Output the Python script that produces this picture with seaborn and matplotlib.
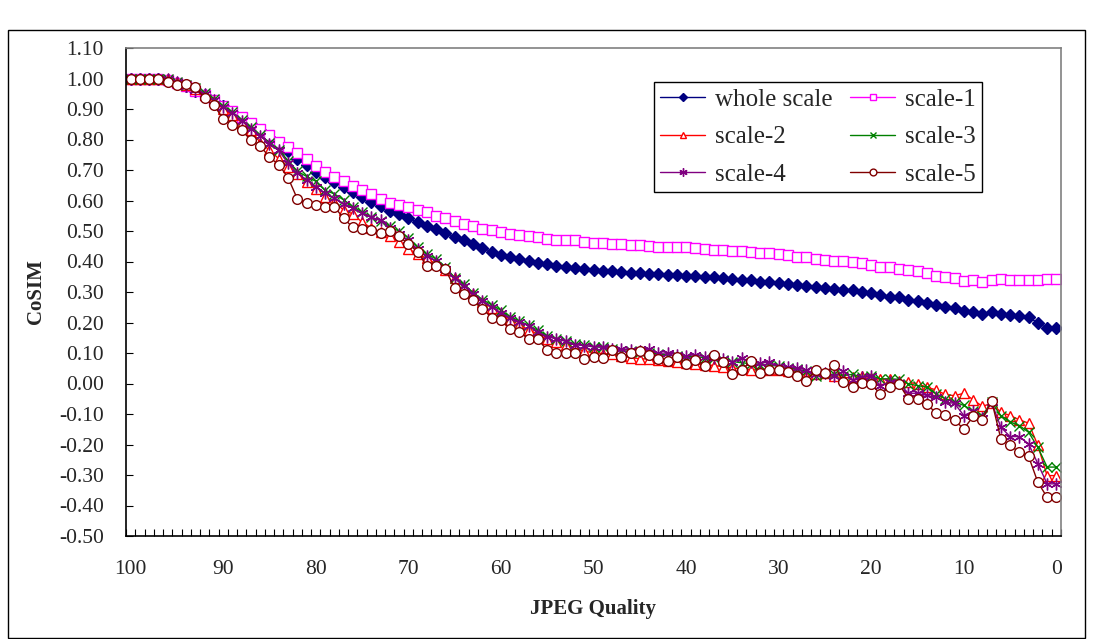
import numpy as np
import pandas as pd
import matplotlib
matplotlib.use("Agg")
import matplotlib.pyplot as plt
import seaborn as sns
from matplotlib.patches import Rectangle
from matplotlib.ticker import FixedLocator, FormatStrFormatter

quality = list(range(100, -1, -1))

whole_scale = [
    1.00, 1.00, 1.00, 1.00, 0.995, 0.985, 0.975, 0.96, 0.945, 0.925,
    0.91, 0.89, 0.87, 0.85, 0.83, 0.808, 0.782, 0.762, 0.737, 0.715,
    0.693, 0.676, 0.660, 0.644, 0.627, 0.611, 0.594, 0.581, 0.567, 0.555,
    0.542, 0.528, 0.517, 0.506, 0.495, 0.480, 0.469, 0.458, 0.445, 0.432,
    0.421, 0.415, 0.409, 0.403, 0.395, 0.391, 0.386, 0.381, 0.378, 0.375,
    0.371, 0.370, 0.369, 0.367, 0.362, 0.362, 0.360, 0.360, 0.356, 0.356,
    0.354, 0.354, 0.349, 0.349, 0.345, 0.343, 0.340, 0.338, 0.332, 0.332,
    0.329, 0.327, 0.323, 0.321, 0.318, 0.314, 0.310, 0.307, 0.305, 0.299,
    0.296, 0.291, 0.285, 0.283, 0.274, 0.270, 0.263, 0.258, 0.250, 0.247,
    0.237, 0.234, 0.228, 0.234, 0.228, 0.223, 0.220, 0.217, 0.199, 0.181,
    0.181]

scale_1 = [
    1.00, 1.00, 1.00, 1.00, 0.995, 0.985, 0.975, 0.96, 0.945, 0.928,
    0.91, 0.893, 0.875, 0.855, 0.835, 0.815, 0.793, 0.775, 0.755, 0.737,
    0.713, 0.695, 0.678, 0.663, 0.648, 0.635, 0.620, 0.604, 0.591, 0.586,
    0.579, 0.570, 0.563, 0.550, 0.542, 0.532, 0.522, 0.515, 0.508, 0.502,
    0.497, 0.491, 0.486, 0.482, 0.479, 0.474, 0.472, 0.471, 0.471, 0.463,
    0.460, 0.460, 0.459, 0.457, 0.455, 0.454, 0.451, 0.449, 0.447, 0.446,
    0.446, 0.445, 0.441, 0.438, 0.437, 0.436, 0.436, 0.431, 0.427, 0.427,
    0.426, 0.421, 0.416, 0.414, 0.409, 0.406, 0.403, 0.403, 0.398, 0.395,
    0.390, 0.381, 0.381, 0.376, 0.373, 0.368, 0.362, 0.354, 0.348, 0.346,
    0.336, 0.338, 0.334, 0.340, 0.343, 0.340, 0.340, 0.340, 0.340, 0.343,
    0.343]

scale_2 = [
    1.00, 1.00, 1.00, 1.00, 1.00, 0.99, 0.98, 0.965, 0.945, 0.925,
    0.90, 0.88, 0.855, 0.83, 0.79, 0.765, 0.737, 0.711, 0.687, 0.660,
    0.638, 0.611, 0.595, 0.569, 0.556, 0.529, 0.510, 0.496, 0.482, 0.463,
    0.441, 0.425, 0.410, 0.392, 0.372, 0.345, 0.318, 0.293, 0.268, 0.248,
    0.232, 0.208, 0.193, 0.176, 0.162, 0.145, 0.136, 0.127, 0.118, 0.105,
    0.102, 0.098, 0.096, 0.090, 0.085, 0.081, 0.080, 0.076, 0.073, 0.070,
    0.067, 0.064, 0.062, 0.059, 0.055, 0.051, 0.048, 0.045, 0.045, 0.044,
    0.043, 0.041, 0.037, 0.025, 0.030, 0.034, 0.023, 0.019, 0.020, 0.024,
    0.019, 0.015, 0.014, 0.008, 0.004, -0.001, -0.012, -0.021, -0.036, -0.040,
    -0.032, -0.053, -0.075, -0.065, -0.094, -0.105, -0.119, -0.130, -0.203, -0.302,
    -0.302]

scale_3 = [
    1.00, 1.00, 1.00, 1.00, 1.00, 0.99, 0.98, 0.968, 0.952, 0.933,
    0.91, 0.89, 0.865, 0.84, 0.815, 0.79, 0.766, 0.731, 0.696, 0.679,
    0.663, 0.633, 0.622, 0.602, 0.580, 0.562, 0.545, 0.534, 0.515, 0.499,
    0.478, 0.447, 0.423, 0.409, 0.382, 0.347, 0.325, 0.298, 0.275, 0.258,
    0.240, 0.219, 0.205, 0.191, 0.174, 0.157, 0.147, 0.140, 0.130, 0.125,
    0.120, 0.119, 0.113, 0.108, 0.105, 0.103, 0.100, 0.097, 0.093, 0.091,
    0.088, 0.088, 0.085, 0.082, 0.076, 0.072, 0.068, 0.065, 0.062, 0.060,
    0.057, 0.052, 0.047, 0.040, 0.025, 0.030, 0.030, 0.026, 0.030, 0.021,
    0.026, 0.015, 0.015, 0.014, -0.001, -0.007, -0.012, -0.034, -0.050, -0.060,
    -0.072, -0.089, -0.105, -0.062, -0.105, -0.126, -0.138, -0.160, -0.209, -0.274,
    -0.274]

scale_4 = [
    1.00, 1.00, 1.00, 1.00, 1.00, 0.99, 0.975, 0.962, 0.948, 0.93,
    0.905, 0.887, 0.862, 0.835, 0.813, 0.786, 0.764, 0.722, 0.690, 0.668,
    0.645, 0.625, 0.608, 0.590, 0.575, 0.558, 0.545, 0.535, 0.510, 0.490,
    0.470, 0.440, 0.418, 0.402, 0.375, 0.345, 0.320, 0.294, 0.272, 0.250,
    0.232, 0.215, 0.201, 0.190, 0.168, 0.154, 0.146, 0.138, 0.127, 0.124,
    0.121, 0.120, 0.112, 0.112, 0.110, 0.106, 0.114, 0.099, 0.100, 0.095,
    0.090, 0.095, 0.088, 0.084, 0.081, 0.070, 0.084, 0.070, 0.067, 0.070,
    0.056, 0.053, 0.051, 0.045, 0.030, 0.034, 0.026, 0.040, 0.012, 0.021,
    0.023, -0.007, 0.004, 0.001, -0.032, -0.032, -0.039, -0.045, -0.061, -0.065,
    -0.105, -0.091, -0.113, -0.062, -0.143, -0.174, -0.174, -0.198, -0.263, -0.329,
    -0.329]

scale_5 = [
    1.00, 1.00, 1.00, 1.00, 0.99, 0.98, 0.982, 0.972, 0.935, 0.912,
    0.868, 0.848, 0.830, 0.798, 0.780, 0.741, 0.718, 0.675, 0.606, 0.591,
    0.584, 0.580, 0.580, 0.542, 0.512, 0.506, 0.503, 0.492, 0.500, 0.482,
    0.458, 0.432, 0.384, 0.384, 0.375, 0.313, 0.293, 0.273, 0.245, 0.216,
    0.209, 0.180, 0.170, 0.145, 0.145, 0.109, 0.101, 0.099, 0.101, 0.081,
    0.086, 0.083, 0.109, 0.087, 0.099, 0.107, 0.092, 0.079, 0.074, 0.087,
    0.064, 0.078, 0.059, 0.092, 0.072, 0.030, 0.043, 0.075, 0.034, 0.043,
    0.043, 0.038, 0.026, 0.008, 0.045, 0.034, 0.060, 0.004, -0.010, 0.001,
    -0.001, -0.036, -0.010, -0.001, -0.050, -0.050, -0.067, -0.097, -0.102, -0.120,
    -0.149, -0.108, -0.119, -0.056, -0.181, -0.203, -0.225, -0.239, -0.324, -0.373,
    -0.373]

series_names = ["whole scale", "scale-1", "scale-2", "scale-3", "scale-4", "scale-5"]
series_values = [whole_scale, scale_1, scale_2, scale_3, scale_4, scale_5]
x_tick_values = [100, 90, 80, 70, 60, 50, 40, 30, 20, 10, 0]
y_tick_values = [round(-0.5 + 0.1 * i, 2) for i in range(17)]

styles = {
    "whole scale": dict(color="#000080", marker="D", mfc="#000080", mec="#000080", ms=6.5, mew=1.0),
    "scale-1": dict(color="#FF00FF", marker="s", mfc="white", mec="#FF00FF", ms=6.5, mew=1.0),
    "scale-2": dict(color="#FF0000", marker="^", mfc="white", mec="#FF0000", ms=7.0, mew=1.0),
    "scale-3": dict(color="#008000", marker="x", mfc="#008000", mec="#008000", ms=7.0, mew=1.0),
    "scale-4": dict(color="#800080", marker=(6, 2, 0), mfc="#800080", mec="#800080", ms=8.5, mew=1.0),
    "scale-5": dict(color="#800000", marker="o", mfc="white", mec="#800000", ms=7.0, mew=1.0),
}

sns.set_style("white")
plt.rcParams["font.family"] = ["Liberation Serif", "DejaVu Serif"]

W, H = 1093, 639
fig = plt.figure(figsize=(W / 100, H / 100), dpi=100)
ax = fig.add_axes([126 / W, 1 - 536 / H, (1061 - 126) / W, (536 - 48) / H])

for name, vals in zip(series_names, series_values):
    df = pd.DataFrame({"quality": quality, "cosim": vals})
    st = styles[name]
    sns.lineplot(data=df, x="quality", y="cosim", ax=ax, label=name,
                 color=st["color"], marker=st["marker"], markerfacecolor=st["mfc"],
                 markeredgecolor=st["mec"], markersize=st["ms"], markeredgewidth=st["mew"],
                 linewidth=1.0, sort=False, legend=False)

ax.set_xlim(100.5, -0.5)
ax.set_ylim(-0.5, 1.1)

ax.xaxis.set_major_locator(FixedLocator(x_tick_values))
ax.set_xticklabels([str(v) for v in x_tick_values])
ax.xaxis.set_minor_locator(FixedLocator([q + 0.5 for q in range(-1, 101)]))
ax.tick_params(axis="x", which="major", length=0, pad=17, labelsize=15.5)
ax.tick_params(axis="x", which="minor", direction="in", length=5, width=0.8, color="black", bottom=True)

ax.yaxis.set_major_locator(FixedLocator(y_tick_values))
ax.yaxis.set_major_formatter(FormatStrFormatter("%.2f"))
ax.tick_params(axis="y", which="major", direction="in", length=5, width=0.8, color="black", left=True, pad=16, labelsize=15.5)

ax.set_xlabel("JPEG Quality", fontsize=15, fontweight="bold", labelpad=15)
ax.set_ylabel("CoSIM", fontsize=15, fontweight="bold", labelpad=9)

for side in ["left", "bottom"]:
    ax.spines[side].set_color("black")
    ax.spines[side].set_linewidth(1.2)
for side in ["top", "right"]:
    ax.spines[side].set_color("#808080")
    ax.spines[side].set_linewidth(1.2)
ax.grid(False)

handles, labels = ax.get_legend_handles_labels()
order = [0, 2, 4, 1, 3, 5]
leg = ax.legend([handles[i] for i in order], [labels[i] for i in order], ncol=2,
                loc="upper left", bbox_to_anchor=(0.5647, 0.930), fontsize=18,
                frameon=True, fancybox=False, edgecolor="black", framealpha=1,
                handlelength=1.8, handletextpad=0.4, columnspacing=0.7,
                labelspacing=0.6, borderpad=0.25, borderaxespad=0.0, markerscale=0.7)
leg.get_frame().set_linewidth(1.0)

fig.patches.append(Rectangle((8 / W, 0.002), (1085 - 8) / W, (H - 30) / H - 0.002,
                             transform=fig.transFigure, fill=False, edgecolor="black",
                             linewidth=1.0))

fig.savefig("out.png", dpi=100)
